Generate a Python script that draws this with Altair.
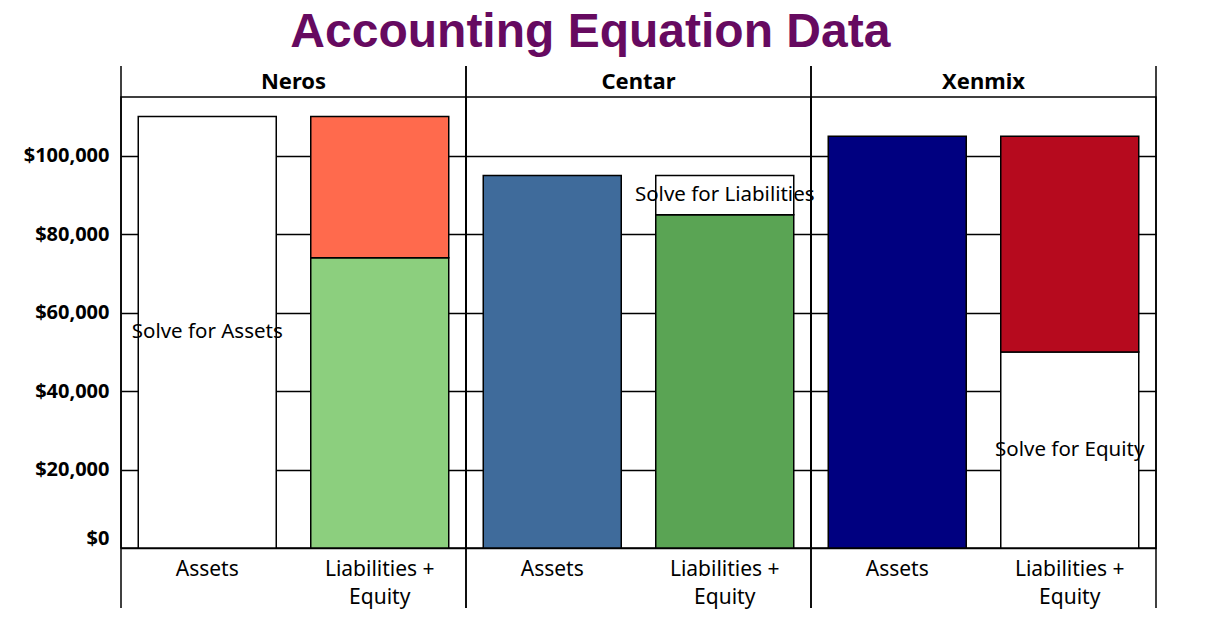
import altair as alt
import pandas as pd

# ---- data (bottom-to-top within each stacked bar) ----
company = ["Neros", "Neros", "Neros",
           "Centar", "Centar", "Centar",
           "Xenmix", "Xenmix", "Xenmix"]
category = ["Assets", "Liabilities + Equity", "Liabilities + Equity",
            "Assets", "Liabilities + Equity", "Liabilities + Equity",
            "Assets", "Liabilities + Equity", "Liabilities + Equity"]
segment = ["Neros Assets", "Neros Lower", "Neros Upper",
           "Centar Assets", "Centar Lower", "Centar Upper",
           "Xenmix Assets", "Xenmix Lower", "Xenmix Upper"]
value = [110000, 74000, 36000,
         95000, 85000, 10000,
         105000, 50000, 55000]
label = ["Solve for Assets", "", "",
         "", "", "Solve for Liabilities",
         "", "Solve for Equity", ""]

company_order = ["Neros", "Centar", "Xenmix"]
category_order = ["Assets", "Liabilities + Equity"]
y_ticks = [0, 20000, 40000, 60000, 80000, 100000]

seg_colors = ["#ffffff", "#8ccf7e", "#ff6a4d",
              "#3f6b9b", "#5aa454", "#ffffff",
              "#000080", "#ffffff", "#b60a1e"]

df = pd.DataFrame({
    "company": company,
    "category": category,
    "segment": segment,
    "value": value,
    "label": label,
})
df["order"] = range(len(df))

FONT = "Noto Sans"
W, H = 345, 451

base = alt.Chart().transform_stack(
    stack="value",
    groupby=["company", "category"],
    as_=["y0", "y1"],
    sort=[alt.SortField("order", order="ascending")],
).transform_calculate(mid="(datum.y0 + datum.y1) / 2")

x_enc = alt.X(
    "category:N",
    sort=category_order,
    scale=alt.Scale(paddingInner=0.2, paddingOuter=0.1),
    axis=alt.Axis(
        title=None, labelAngle=0, labelFont=FONT, labelFontSize=21,
        labelColor="black", labelPadding=10, ticks=False, domain=False,
        labelLineHeight=28,
        labelExpr="split(replace(datum.label, '+ ', '+|'), '|')",
    ),
)

y_scale = alt.Scale(domain=[0, 115000], nice=False)

bars = base.mark_bar(stroke="black", strokeWidth=1.5).encode(
    x=x_enc,
    y=alt.Y(
        "y0:Q", scale=y_scale,
        axis=alt.Axis(
            title=None, values=y_ticks, format="$,.0f",
            labelFont=FONT, labelFontSize=20, labelFontWeight="bold",
            labelColor="black", labelPadding=12, ticks=False, domain=False,
            grid=True, gridColor="black", gridWidth=1.5, labelFlush=True,
        ),
    ),
    y2="y1:Q",
    color=alt.Color("segment:N",
                    scale=alt.Scale(domain=segment, range=seg_colors),
                    legend=None),
)

texts = base.transform_filter("datum.label != ''").mark_text(
    font=FONT, fontSize=20.5, color="black"
).encode(
    x=alt.X("category:N", sort=category_order),
    y=alt.Y("mid:Q", scale=y_scale),
    text="label:N",
)

sep = alt.Chart().transform_filter("datum.category == 'Assets'")
rule_left = sep.mark_rule(color="black", strokeWidth=1.5).encode(
    x=alt.value(0), y=alt.value(-31), y2=alt.value(H + 60)
)
rule_right = sep.mark_rule(color="black", strokeWidth=1.5).encode(
    x=alt.value(W), y=alt.value(-31), y2=alt.value(H + 60)
)

layered = alt.layer(bars, texts, rule_left, rule_right).properties(
    width=W, height=H
)

chart = alt.FacetChart(
    data=df,
    spec=layered,
    facet=alt.Facet(
        "company:N", sort=company_order,
        header=alt.Header(
            title=None, labelFont=FONT, labelFontSize=22,
            labelFontWeight="bold", labelColor="black", labelPadding=-29,
        ),
    ),
    columns=3,
    spacing=0,
    bounds="flush",
).properties(
    title=alt.TitleParams(
        "Accounting Equation Data", font="Liberation Sans", fontSize=48,
        fontWeight="bold", color="#660a60", anchor="middle", offset=2, dy=-6,
    ),
    padding={"left": 15, "top": 0, "right": 5, "bottom": 5},
    background="white",
).configure_view(
    stroke="black", strokeWidth=1.5
)

chart.save("out.html", embed_options={"renderer": "svg", "actions": False})
